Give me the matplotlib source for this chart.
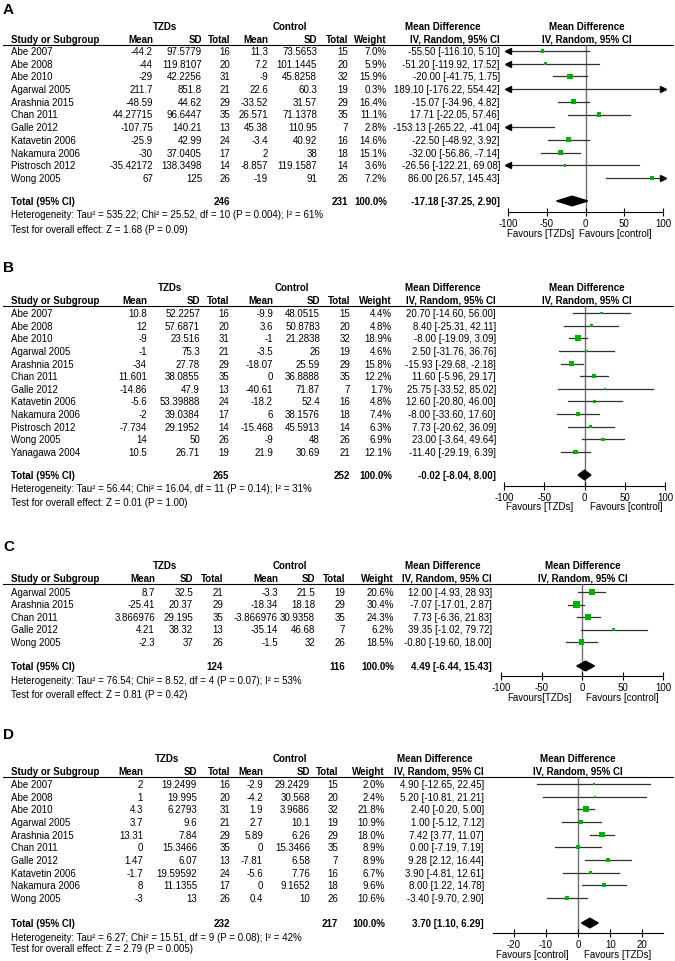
import matplotlib
matplotlib.use('Agg')
import matplotlib.pyplot as plt

plt.rcParams['font.family'] = ['Liberation Sans', 'DejaVu Sans']
FS = 7
W, H = 675, 962

# ---------------- panel A ----------------
studies_a = ["Abe 2007", "Abe 2008", "Abe 2010", "Agarwal 2005", "Arashnia 2015", "Chan 2011",
             "Galle 2012", "Katavetin 2006", "Nakamura 2006", "Pistrosch 2012", "Wong 2005"]
tzd_mean_a = ["-44.2", "-44", "-29", "211.7", "-48.59", "44.27715", "-107.75", "-25.9", "-30", "-35.42172", "67"]
tzd_sd_a = ["97.5779", "119.8107", "42.2256", "851.8", "44.62", "96.6447", "140.21", "42.99", "37.0405", "138.3498", "125"]
tzd_n_a = [16, 20, 31, 21, 29, 35, 13, 24, 17, 14, 26]
ctl_mean_a = ["11.3", "7.2", "-9", "22.6", "-33.52", "26.571", "45.38", "-3.4", "2", "-8.857", "-19"]
ctl_sd_a = ["73.5653", "101.1445", "45.8258", "60.3", "31.57", "71.1378", "110.95", "40.92", "38", "119.1587", "91"]
ctl_n_a = [15, 20, 32, 19, 29, 35, 7, 16, 18, 14, 26]
weight_a = [7.0, 5.9, 15.9, 0.3, 16.4, 11.1, 2.8, 14.6, 15.1, 3.6, 7.2]
md_a = [-55.50, -51.20, -20.00, 189.10, -15.07, 17.71, -153.13, -22.50, -32.00, -26.56, 86.00]
lo_a = [-116.10, -119.92, -41.75, -176.22, -34.96, -22.05, -265.22, -48.92, -56.86, -122.21, 26.57]
hi_a = [5.10, 17.52, 1.75, 554.42, 4.82, 57.46, -41.04, 3.92, -7.14, 69.08, 145.43]
total_a = [246, 231, -17.18, -37.25, 2.90]
het_a = "Heterogeneity: Tau² = 535.22; Chi² = 25.52, df = 10 (P = 0.004); I² = 61%"
test_a = "Test for overall effect: Z = 1.68 (P = 0.09)"

# ---------------- panel B ----------------
studies_b = ["Abe 2007", "Abe 2008", "Abe 2010", "Agarwal 2005", "Arashnia 2015", "Chan 2011",
             "Galle 2012", "Katavetin 2006", "Nakamura 2006", "Pistrosch 2012", "Wong 2005", "Yanagawa 2004"]
tzd_mean_b = ["10.8", "12", "-9", "-1", "-34", "11.601", "-14.86", "-5.6", "-2", "-7.734", "14", "10.5"]
tzd_sd_b = ["52.2257", "57.6871", "23.516", "75.3", "27.78", "38.0855", "47.9", "53.39888", "39.0384", "29.1952", "50", "26.71"]
tzd_n_b = [16, 20, 31, 21, 29, 35, 13, 24, 17, 14, 26, 19]
ctl_mean_b = ["-9.9", "3.6", "-1", "-3.5", "-18.07", "0", "-40.61", "-18.2", "6", "-15.468", "-9", "21.9"]
ctl_sd_b = ["48.0515", "50.8783", "21.2838", "26", "25.59", "36.8888", "71.87", "52.4", "38.1576", "45.5913", "48", "30.69"]
ctl_n_b = [15, 20, 32, 19, 29, 35, 7, 16, 18, 14, 26, 21]
weight_b = [4.4, 4.8, 18.9, 4.6, 15.8, 12.2, 1.7, 4.8, 7.4, 6.3, 6.9, 12.1]
md_b = [20.70, 8.40, -8.00, 2.50, -15.93, 11.60, 25.75, 12.60, -8.00, 7.73, 23.00, -11.40]
lo_b = [-14.60, -25.31, -19.09, -31.76, -29.68, -5.96, -33.52, -20.80, -33.60, -20.62, -3.64, -29.19]
hi_b = [56.00, 42.11, 3.09, 36.76, -2.18, 29.17, 85.02, 46.00, 17.60, 36.09, 49.64, 6.39]
total_b = [265, 252, -0.02, -8.04, 8.00]
het_b = "Heterogeneity: Tau² = 56.44; Chi² = 16.04, df = 11 (P = 0.14); I² = 31%"
test_b = "Test for overall effect: Z = 0.01 (P = 1.00)"

# ---------------- panel C ----------------
studies_c = ["Agarwal 2005", "Arashnia 2015", "Chan 2011", "Galle 2012", "Wong 2005"]
tzd_mean_c = ["8.7", "-25.41", "3.866976", "4.21", "-2.3"]
tzd_sd_c = ["32.5", "20.37", "29.195", "38.32", "37"]
tzd_n_c = [21, 29, 35, 13, 26]
ctl_mean_c = ["-3.3", "-18.34", "-3.866976", "-35.14", "-1.5"]
ctl_sd_c = ["21.5", "18.18", "30.9358", "46.68", "32"]
ctl_n_c = [19, 29, 35, 7, 26]
weight_c = [20.6, 30.4, 24.3, 6.2, 18.5]
md_c = [12.00, -7.07, 7.73, 39.35, -0.80]
lo_c = [-4.93, -17.01, -6.36, -1.02, -19.60]
hi_c = [28.93, 2.87, 21.83, 79.72, 18.00]
total_c = [124, 116, 4.49, -6.44, 15.43]
het_c = "Heterogeneity: Tau² = 76.54; Chi² = 8.52, df = 4 (P = 0.07); I² = 53%"
test_c = "Test for overall effect: Z = 0.81 (P = 0.42)"

# ---------------- panel D ----------------
studies_d = ["Abe 2007", "Abe 2008", "Abe 2010", "Agarwal 2005", "Arashnia 2015", "Chan 2011",
             "Galle 2012", "Katavetin 2006", "Nakamura 2006", "Wong 2005"]
tzd_mean_d = ["2", "1", "4.3", "3.7", "13.31", "0", "1.47", "-1.7", "8", "-3"]
tzd_sd_d = ["19.2499", "19.995", "6.2793", "9.6", "7.84", "15.3466", "6.07", "19.59592", "11.1355", "13"]
tzd_n_d = [16, 20, 31, 21, 29, 35, 13, 24, 17, 26]
ctl_mean_d = ["-2.9", "-4.2", "1.9", "2.7", "5.89", "0", "-7.81", "-5.6", "0", "0.4"]
ctl_sd_d = ["29.2429", "30.568", "3.9686", "10.1", "6.26", "15.3466", "6.58", "7.76", "9.1652", "10"]
ctl_n_d = [15, 20, 32, 19, 29, 35, 7, 16, 18, 26]
weight_d = [2.0, 2.4, 21.8, 10.9, 18.0, 8.9, 8.9, 6.7, 9.6, 10.6]
md_d = [4.90, 5.20, 2.40, 1.00, 7.42, 0.00, 9.28, 3.90, 8.00, -3.40]
lo_d = [-12.65, -10.81, -0.20, -5.12, 3.77, -7.19, 2.12, -4.81, 1.22, -9.70]
hi_d = [22.45, 21.21, 5.00, 7.12, 11.07, 7.19, 16.44, 12.61, 14.78, 2.90]
total_d = [232, 217, 3.70, 1.10, 6.29]
het_d = "Heterogeneity: Tau² = 6.27; Chi² = 15.51, df = 9 (P = 0.08); I² = 42%"
test_d = "Test for overall effect: Z = 2.79 (P = 0.005)"

ticks_100 = [-100, -50, 0, 50, 100]
ticks_20 = [-20, -10, 0, 10, 20]

# layout of each panel, in pixels of the output picture
lay_a = dict(letter_y=10, group_y=27, head_y=40, line_y=46, row0=52, dy=12.7, total_y=202,
             het_y=215, test_y=230, axis_y=213, cols=(153, 202, 230, 268, 317, 348, 387, 500),
             tzd_x=165, ctl_x=290, md_x=443, fx=(508, 663), xlim=(-100, 100), ticks=ticks_100,
             fhead_x=587, fav_x=(541, 615), fav_y=234, fav=("Favours [TZDs]", "Favours [control]"))
lay_b = dict(letter_y=268, group_y=288, head_y=301, line_y=307, row0=314, dy=12.64, total_y=476,
             het_y=489, test_y=503, axis_y=487, cols=(147, 200, 229, 273, 320, 350, 392, 496),
             tzd_x=170, ctl_x=292, md_x=443, fx=(504, 665), xlim=(-100, 100), ticks=ticks_100,
             fhead_x=587, fav_x=(540, 626), fav_y=507, fav=("Favours [TZDs]", "Favours [control]"))
lay_c = dict(letter_y=547, group_y=566, head_y=579, line_y=585, row0=593, dy=12.5, total_y=667,
             het_y=681, test_y=695, axis_y=677, cols=(155, 193, 223, 278, 315, 345, 394, 492),
             tzd_x=165, ctl_x=290, md_x=443, fx=(501, 663), xlim=(-100, 100), ticks=ticks_100,
             fhead_x=583, fav_x=(539, 622), fav_y=698, fav=("Favours[TZDs]", "Favours [control]"))
lay_d = dict(letter_y=735, group_y=759, head_y=772, line_y=778, row0=785, dy=12.67, total_y=924,
             het_y=938, test_y=949, axis_y=934, cols=(143, 197, 230, 263, 310, 338, 385, 484),
             tzd_x=167, ctl_x=290, md_x=435, fx=(493, 663), xlim=(-26.4, 26.4), ticks=ticks_20,
             fhead_x=578, fav_x=(532, 618), fav_y=955, fav=("Favours [control]", "Favours [TZDs]"))

fig = plt.figure(figsize=(W / 100, H / 100), dpi=100)
bg = fig.add_axes([0, 0, 1, 1])
bg.set_xlim(0, W)
bg.set_ylim(H, 0)
bg.axis('off')


def txt(x, y, s, ha='right', bold=False, size=FS):
    bg.text(x, y, s, ha=ha, va='center', fontsize=size,
            fontweight='bold' if bold else 'normal')


def draw_panel(letter, lay, studies, tm, tsd, tn, cm, csd, cn, wt, md, lo, hi, total, het, test):
    c = lay['cols']
    txt(3, lay['letter_y'], letter, ha='left', bold=True, size=11)
    txt(lay['tzd_x'], lay['group_y'], "TZDs", ha='center', bold=True)
    txt(lay['ctl_x'], lay['group_y'], "Control", ha='center', bold=True)
    txt(lay['md_x'], lay['group_y'], "Mean Difference", ha='center', bold=True)
    txt(lay['fhead_x'], lay['group_y'], "Mean Difference", ha='center', bold=True)
    hy = lay['head_y']
    txt(11, hy, "Study or Subgroup", ha='left', bold=True)
    for x, s in zip(c, ["Mean", "SD", "Total", "Mean", "SD", "Total", "Weight", "IV, Random, 95% CI"]):
        txt(x, hy, s, bold=True)
    txt(lay['fhead_x'], hy, "IV, Random, 95% CI", ha='center', bold=True)
    bg.plot([3, 673], [lay['line_y'], lay['line_y']], color='black', lw=0.8)

    for i, name in enumerate(studies):
        y = lay['row0'] + i * lay['dy']
        txt(11, y, name, ha='left')
        vals = [tm[i], tsd[i], str(tn[i]), cm[i], csd[i], str(cn[i]), "%.1f%%" % wt[i],
                "%.2f [%.2f, %.2f]" % (md[i], lo[i], hi[i])]
        for x, s in zip(c, vals):
            txt(x, y, s)

    ty = lay['total_y']
    txt(11, ty, "Total (95% CI)", ha='left', bold=True)
    txt(c[2], ty, str(total[0]), bold=True)
    txt(c[5], ty, str(total[1]), bold=True)
    txt(c[6], ty, "100.0%", bold=True)
    txt(c[7], ty, "%.2f [%.2f, %.2f]" % (total[2], total[3], total[4]), bold=True)
    txt(11, lay['het_y'], het, ha='left')
    txt(11, lay['test_y'], test, ha='left')

    # forest plot
    x0, x1 = lay['fx']
    top, bot = lay['line_y'], lay['axis_y']
    ax = fig.add_axes([x0 / W, 1 - bot / H, (x1 - x0) / W, (bot - top) / H])
    ax.set_facecolor('none')
    xmin, xmax = lay['xlim']
    ax.set_xlim(xmin, xmax)
    ax.set_ylim((bot - lay['row0']) / lay['dy'], (top - lay['row0']) / lay['dy'])
    ax.axvline(0, color='#707070', lw=1, zorder=1)
    for i in range(len(studies)):
        a, b = max(lo[i], xmin), min(hi[i], xmax)
        if a < b:
            ax.plot([a, b], [i, i], color='#303030', lw=0.9, zorder=2)
        if lo[i] < xmin:
            ax.plot(xmin, i, marker='<', ms=4, color='black', clip_on=False, zorder=3)
        if hi[i] > xmax:
            ax.plot(xmax, i, marker='>', ms=4, color='black', clip_on=False, zorder=3)
    rows = list(range(len(studies)))
    ax.scatter(md, rows, s=[max(0.85 * w, 2) for w in wt], marker='s',
               color='#00b000', linewidths=0, zorder=4)
    yt = (ty - lay['row0']) / lay['dy']
    h = 4.8 / lay['dy']
    ax.fill([total[3], total[2], total[4], total[2]], [yt, yt - h, yt, yt + h],
            color='black', zorder=5, clip_on=False)
    for s in ['top', 'left', 'right']:
        ax.spines[s].set_visible(False)
    ax.spines['bottom'].set_linewidth(0.8)
    ax.set_yticks([])
    ax.set_xticks(lay['ticks'])
    ax.set_xticklabels([str(t) for t in lay['ticks']])
    ax.tick_params(axis='x', direction='inout', length=6, width=0.8, labelsize=FS, pad=1)
    txt(lay['fav_x'][0], lay['fav_y'], lay['fav'][0], ha='center')
    txt(lay['fav_x'][1], lay['fav_y'], lay['fav'][1], ha='center')


draw_panel("A", lay_a, studies_a, tzd_mean_a, tzd_sd_a, tzd_n_a, ctl_mean_a, ctl_sd_a, ctl_n_a,
           weight_a, md_a, lo_a, hi_a, total_a, het_a, test_a)
draw_panel("B", lay_b, studies_b, tzd_mean_b, tzd_sd_b, tzd_n_b, ctl_mean_b, ctl_sd_b, ctl_n_b,
           weight_b, md_b, lo_b, hi_b, total_b, het_b, test_b)
draw_panel("C", lay_c, studies_c, tzd_mean_c, tzd_sd_c, tzd_n_c, ctl_mean_c, ctl_sd_c, ctl_n_c,
           weight_c, md_c, lo_c, hi_c, total_c, het_c, test_c)
draw_panel("D", lay_d, studies_d, tzd_mean_d, tzd_sd_d, tzd_n_d, ctl_mean_d, ctl_sd_d, ctl_n_d,
           weight_d, md_d, lo_d, hi_d, total_d, het_d, test_d)

fig.savefig('out.png', dpi=100)
